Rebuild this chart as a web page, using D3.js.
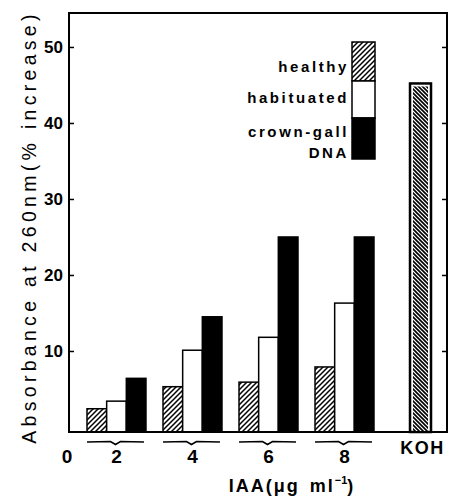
<!DOCTYPE html>
<html>
<head>
<meta charset="utf-8">
<script src="https://cdn.jsdelivr.net/npm/d3@7"></script>
<style>
  body { margin: 0; background: #fff; }
  svg { display: block; }
  text { fill: #000; }
</style>
</head>
<body>
<div id="chart"></div>
<script>
// IAA concentrations (µg/ml) plus the KOH control
const groups = ["2", "4", "6", "8", "KOH"];
const series = ["healthy", "habituated", "crown-gall DNA"];

// % increase in absorbance at 260 nm
const healthy = [2.4, 5.3, 5.9, 7.9];
const habituated = [3.4, 10.1, 11.8, 16.3];
const crownGall = [6.4, 14.5, 25.0, 25.0];
const kohValue = 45.2;

const yTicks = [10, 20, 30, 40, 50];

const width = 449, height = 496;
const plotL = 69, plotR = 447, plotT = 13, plotB = 432;

const svg = d3.select("#chart").append("svg")
  .attr("width", width)
  .attr("height", height);

// hatch patterns
const defs = svg.append("defs");
defs.append("pattern")
  .attr("id", "hatch")
  .attr("patternUnits", "userSpaceOnUse")
  .attr("width", 5).attr("height", 5)
  .append("path")
  .attr("d", "M-1,1 l2,-2 M0,5 l5,-5 M4,6 l2,-2")
  .attr("stroke", "#000")
  .attr("stroke-width", 1.5);

const dense = defs.append("pattern")
  .attr("id", "dense")
  .attr("patternUnits", "userSpaceOnUse")
  .attr("width", 4).attr("height", 4);
dense.append("rect").attr("width", 4).attr("height", 4).attr("fill", "#fff");
dense.append("path")
  .attr("d", "M-1,3 l2,2 M0,0 l4,4 M3,-1 l2,2")
  .attr("stroke", "#000")
  .attr("stroke-width", 1.6);

// scales
const y = d3.scaleLinear().domain([-0.66, 54.47]).range([plotB, plotT]);
const x = d3.scaleBand().domain(groups).range([87, 450]).paddingInner(0.224).paddingOuter(0);
const xs = d3.scaleBand().domain(series).range([0, x.bandwidth()]);

const fills = { "healthy": "url(#hatch)", "habituated": "#fff", "crown-gall DNA": "#000" };

const rows = groups.slice(0, 4).map((g, i) => ({
  group: g,
  values: [
    { key: "healthy", value: healthy[i] },
    { key: "habituated", value: habituated[i] },
    { key: "crown-gall DNA", value: crownGall[i] }
  ]
}));

// bars
svg.append("g").selectAll("g.grp")
  .data(rows)
  .enter().append("g")
  .attr("class", "grp")
  .attr("transform", d => `translate(${x(d.group)},0)`)
  .selectAll("rect")
  .data(d => d.values)
  .enter().append("rect")
  .attr("x", d => xs(d.key))
  .attr("y", d => y(d.value))
  .attr("width", xs.bandwidth())
  .attr("height", d => plotB - y(d.value))
  .attr("fill", d => fills[d.key])
  .attr("stroke", "#000")
  .attr("stroke-width", 1.5);

// KOH control bar
const kohW = 21;
const kohX = x("KOH") + x.bandwidth() / 2 - kohW / 2;
svg.append("rect")
  .attr("x", kohX).attr("y", y(kohValue))
  .attr("width", kohW).attr("height", plotB - y(kohValue))
  .attr("fill", "#fff")
  .attr("stroke", "#000")
  .attr("stroke-width", 2.5);
svg.append("rect")
  .attr("x", kohX + 3).attr("y", y(kohValue) + 3)
  .attr("width", kohW - 6).attr("height", plotB - y(kohValue) - 3)
  .attr("fill", "url(#dense)");

// frame
svg.append("rect")
  .attr("x", plotL).attr("y", plotT)
  .attr("width", plotR - plotL).attr("height", plotB - plotT)
  .attr("fill", "none")
  .attr("stroke", "#000")
  .attr("stroke-width", 2);

// axes
const axisFont = "bold 17px 'Liberation Sans Narrow', 'Liberation Sans', Arial, sans-serif";
const yAxis = svg.append("g")
  .attr("transform", `translate(${plotL},0)`)
  .call(d3.axisLeft(y).tickValues(yTicks).tickSizeInner(-5).tickSizeOuter(0).tickPadding(6));
yAxis.select(".domain").remove();
yAxis.selectAll("line").attr("stroke-width", 1.5);
yAxis.selectAll("text").style("font", axisFont);

const yAxisR = svg.append("g")
  .attr("transform", `translate(${plotR},0)`)
  .call(d3.axisRight(y).tickValues(yTicks).tickSizeInner(-5).tickSizeOuter(0).tickFormat(""));
yAxisR.select(".domain").remove();
yAxisR.selectAll("line").attr("stroke-width", 1.5);

// flat brace under each IAA group
svg.selectAll("path.brace")
  .data(groups.slice(0, 4))
  .enter().append("path")
  .attr("class", "brace")
  .attr("d", d => {
    const x0 = x(d), x1 = x(d) + x.bandwidth() - 2, m = (x0 + x1) / 2, yy = 442;
    return `M${x0},${yy} L${m - 5},${yy - 0.5} L${m},${yy + 2.5} L${m + 5},${yy - 0.5} L${x1},${yy}`;
  })
  .attr("fill", "none")
  .attr("stroke", "#000")
  .attr("stroke-width", 1.6);

// x labels
svg.selectAll("text.xlab")
  .data(groups.slice(0, 4))
  .enter().append("text")
  .attr("class", "xlab")
  .attr("x", d => x(d) + x.bandwidth() / 2)
  .attr("y", 463)
  .attr("text-anchor", "middle")
  .style("font", "bold 19px 'Liberation Sans Narrow', 'Liberation Sans', Arial, sans-serif")
  .text(d => d);

svg.append("text")
  .attr("x", 67).attr("y", 463)
  .attr("text-anchor", "middle")
  .style("font", "bold 19px 'Liberation Sans Narrow', 'Liberation Sans', Arial, sans-serif")
  .text("0");

svg.append("text")
  .attr("x", x("KOH") + x.bandwidth() / 2 + 2).attr("y", 454)
  .attr("text-anchor", "middle")
  .attr("letter-spacing", 1.5)
  .style("font", "bold 18px 'Liberation Sans', Arial, sans-serif")
  .text("KOH");

const xTitle = svg.append("text")
  .attr("x", 292).attr("y", 492)
  .attr("text-anchor", "middle")
  .attr("letter-spacing", 2)
  .style("font", "bold 18px 'Liberation Sans', Arial, sans-serif");
xTitle.append("tspan").text("IAA(μg");
xTitle.append("tspan").attr("dx", 10).text("ml");
xTitle.append("tspan").attr("dy", -8).style("font-size", "11px").attr("letter-spacing", 0).text("−1");
xTitle.append("tspan").attr("dy", 8).text(")");

// y title
svg.append("text")
  .attr("transform", "translate(36,227) rotate(-90)")
  .attr("text-anchor", "middle")
  .attr("letter-spacing", 4.3)
  .style("font", "19.5px 'Liberation Sans', Arial, sans-serif")
  .text("Absorbance at 260nm(% increase)");

// legend: a stacked key bar with labels
const legX = 352, legW = 23;
const legBands = [
  { key: "healthy", y0: 42, y1: 81 },
  { key: "habituated", y0: 81, y1: 118 },
  { key: "crown-gall DNA", y0: 118, y1: 159 }
];
svg.selectAll("rect.leg")
  .data(legBands)
  .enter().append("rect")
  .attr("class", "leg")
  .attr("x", legX).attr("y", d => d.y0)
  .attr("width", legW).attr("height", d => d.y1 - d.y0)
  .attr("fill", d => fills[d.key])
  .attr("stroke", "#000")
  .attr("stroke-width", 1.5);

const legLabels = [
  { text: "healthy", y: 72 },
  { text: "habituated", y: 103 },
  { text: "crown-gall", y: 137 },
  { text: "DNA", y: 158 }
];
svg.selectAll("text.leglab")
  .data(legLabels)
  .enter().append("text")
  .attr("class", "leglab")
  .attr("x", 349).attr("y", d => d.y)
  .attr("text-anchor", "end")
  .attr("letter-spacing", 2.6)
  .style("font", "bold 15px 'Liberation Sans', Arial, sans-serif")
  .text(d => d.text);
</script>
</body>
</html>
